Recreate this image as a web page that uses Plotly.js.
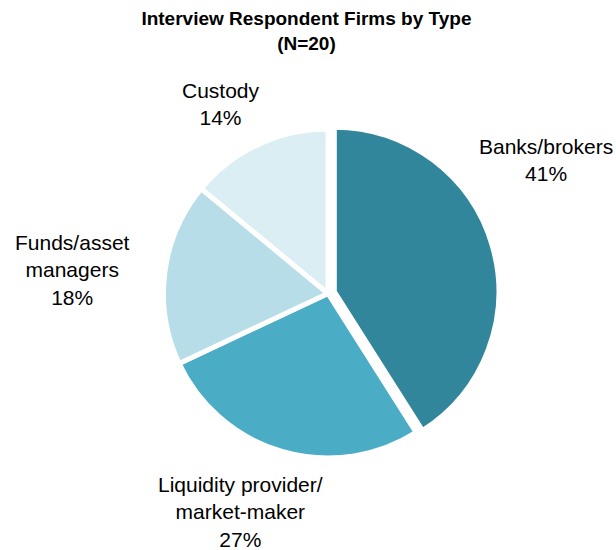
<!DOCTYPE html>
<html>
<head>
<meta charset="utf-8">
<script src="https://cdn.plot.ly/plotly-3.0.1.min.js"></script>
<style>html,body{margin:0;padding:0;background:#fff;}#chart{width:616px;height:550px;}</style>
</head>
<body>
<div id="chart"></div>
<script>
// Data
var categories = ["Banks/brokers", "Liquidity provider/ market-maker", "Funds/asset managers", "Custody"];
var labelLines = ["Banks/brokers", "Liquidity provider/<br>market-maker", "Funds/asset<br>managers", "Custody"];
var shares = [41, 27, 18, 14];
var colors = ["#31869B", "#4BACC6", "#B7DEE8", "#DAEEF3"];
var pulls = [0.04, 0, 0, 0];

// label placement (paper px)
var labelPos = [[546, 160], [240, 512], [72, 270], [221, 104]];

var W = 616, H = 550;
var annotations = categories.map(function (c, i) {
  return {
    xref: 'paper', yref: 'paper',
    x: labelPos[i][0] / W, y: 1 - labelPos[i][1] / H,
    xanchor: 'center', yanchor: 'middle', align: 'center',
    showarrow: false,
    text: labelLines[i] + '<br>' + shares[i] + '%',
    font: {family: 'Liberation Sans, Arial, sans-serif', size: 21, color: '#000'}
  };
});

var trace = {
  type: 'pie',
  labels: categories,
  values: shares,
  sort: false,
  direction: 'clockwise',
  rotation: 0,
  pull: pulls,
  textinfo: 'none',
  hoverinfo: 'label+percent',
  marker: {colors: colors, line: {color: '#ffffff', width: 5}},
  domain: {x: [0.2547, 0.8102], y: [0.1553, 0.7775]},
  showlegend: false
};

var layout = {
  width: W, height: H,
  margin: {l: 0, r: 0, t: 0, b: 0},
  paper_bgcolor: '#ffffff',
  showlegend: false,
  title: {
    text: '<b>Interview Respondent Firms by Type</b><br><b>(N=20)</b>',
    x: 0.4975, xanchor: 'center', xref: 'paper',
    y: 1 - 25 / H, yanchor: 'top', yref: 'container',
    font: {family: 'Liberation Sans, Arial, sans-serif', size: 19, color: '#000'}
  },
  annotations: annotations
};

Plotly.newPlot('chart', [trace], layout, {displayModeBar: false, staticPlot: true});
</script>
</body>
</html>
